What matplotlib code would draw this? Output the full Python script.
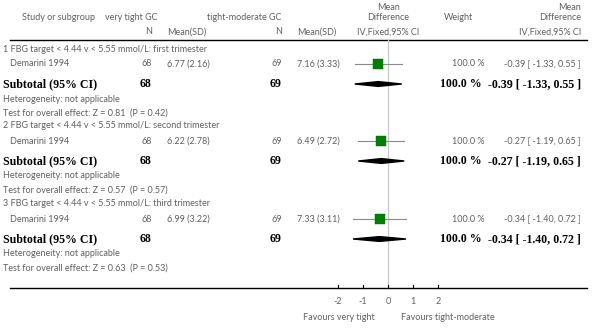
import matplotlib
matplotlib.use("Agg")
import matplotlib.pyplot as plt
from matplotlib.patches import Polygon

# data
groups = [
    "1 FBG target < 4.44 v < 5.55 mmol/L: first trimester",
    "2 FBG target < 4.44 v < 5.55 mmol/L: second trimester",
    "3 FBG target < 4.44 v < 5.55 mmol/L: third trimester",
]
studies = ["Demarini 1994", "Demarini 1994", "Demarini 1994"]
n_tight = [68, 68, 68]
mean_tight = ["6.77 (2.16)", "6.22 (2.78)", "6.99 (3.22)"]
n_mod = [69, 69, 69]
mean_mod = ["7.16 (3.33)", "6.49 (2.72)", "7.33 (3.11)"]
md = [-0.39, -0.27, -0.34]
lo = [-1.33, -1.19, -1.40]
hi = [0.55, 0.65, 0.72]
weight = [100.0, 100.0, 100.0]
z_vals = ["0.81", "0.57", "0.63"]
p_vals = ["0.42", "0.57", "0.53"]
ticks = [-2, -1, 0, 1, 2]

W, H = 601, 330
fig = plt.figure(figsize=(W / 100, H / 100), dpi=100)

# text layer in pixel coordinates
ax = fig.add_axes([0, 0, 1, 1])
ax.set_xlim(0, W)
ax.set_ylim(H, 0)
ax.axis("off")

# forest layer: x in mean-difference units, 0 at 388 px, 25 px per unit
x0, scale = 388, 25
fx = fig.add_axes([0, 0, 1, 1])
fx.set_xlim(-x0 / scale, (W - x0) / scale)
fx.set_ylim(H, 0)
fx.axis("off")

sans = "Lato"
serif = "Liberation Serif"
grey = "#606060"
fs = 6.5
fsb = 8.6

def t(x, y, s, ha="left", bold=False, size=None, color=None):
    if bold:
        ax.text(x, y, s, ha=ha, va="center", family=serif, weight="bold",
                fontsize=size or fsb, color=color or "black")
    else:
        ax.text(x, y, s, ha=ha, va="center", family=sans,
                fontsize=size or fs, color=color or grey)

# header
t(22, 17, "Study or subgroup")
t(105, 17, "very tight GC")
t(207, 17, "tight-moderate GC")
t(152, 32, "N", ha="right")
t(167, 32, "Mean(SD)")
t(282, 32, "N", ha="right")
t(297, 32, "Mean(SD)")
t(x0, 8, "Mean", ha="center")
t(x0, 17, "Difference", ha="center")
t(x0, 32, "IV,Fixed,95% CI", ha="center")
t(458, 17, "Weight", ha="center")
t(581, 8, "Mean", ha="right")
t(581, 17, "Difference", ha="right")
t(581, 32, "IV,Fixed,95% CI", ha="right")
ax.plot([10, 587], [40, 40], color="black", lw=1.0)

# vertical line at zero
fx.plot([0, 0], [40, 288], color="#c8c8c8", lw=0.9, zorder=1)

heads_y = [49, 126, 204]
for i in range(3):
    yh = heads_y[i]
    ys = yh + 15
    ysub = ys + 20
    yhet = ysub + 15
    ytest = yhet + 14
    t(3, yh, groups[i])
    t(10, ys, studies[i])
    t(152, ys, str(n_tight[i]), ha="right")
    t(167, ys, mean_tight[i])
    t(282, ys, str(n_mod[i]), ha="right")
    t(297, ys, mean_mod[i])
    t(484, ys, f"{weight[i]:.1f} %", ha="right")
    t(581, ys, f"{md[i]:.2f} [ {lo[i]:.2f}, {hi[i]:.2f} ]", ha="right")
    fx.plot([lo[i], hi[i]], [ys, ys], color="#8a8a8a", lw=0.8, zorder=2)
    fx.plot([md[i]], [ys], marker="s", ms=7.2, color="#008000", mec="#006400",
            mew=0.3, zorder=3)

    t(3, ysub, "Subtotal (95% CI)", bold=True)
    t(151, ysub, str(n_tight[i]), ha="right", bold=True)
    t(281, ysub, str(n_mod[i]), ha="right", bold=True)
    t(482, ysub, f"{weight[i]:.1f} %", ha="right", bold=True)
    t(581, ysub, f"{md[i]:.2f} [ {lo[i]:.2f}, {hi[i]:.2f} ]", ha="right", bold=True)
    fx.add_patch(Polygon([[lo[i], ysub], [md[i], ysub - 2.4], [hi[i], ysub],
                          [md[i], ysub + 2.4]], closed=True, color="black", zorder=3))

    t(3, yhet, "Heterogeneity: not applicable")
    t(3, ytest, f"Test for overall effect: Z = {z_vals[i]}  (P = {p_vals[i]})")

# bottom axis
ax.plot([10, 587], [288, 288], color="black", lw=1.0)
for v in ticks:
    fx.plot([v, v], [285, 288], color="black", lw=0.8)
    fx.text(v, 302, f"{v}", ha="center", va="center",
            family=sans, fontsize=fs, color=grey)
t(375, 317, "Favours very tight", ha="right")
t(401, 317, "Favours tight-moderate")

fig.savefig("out.png", dpi=100)
